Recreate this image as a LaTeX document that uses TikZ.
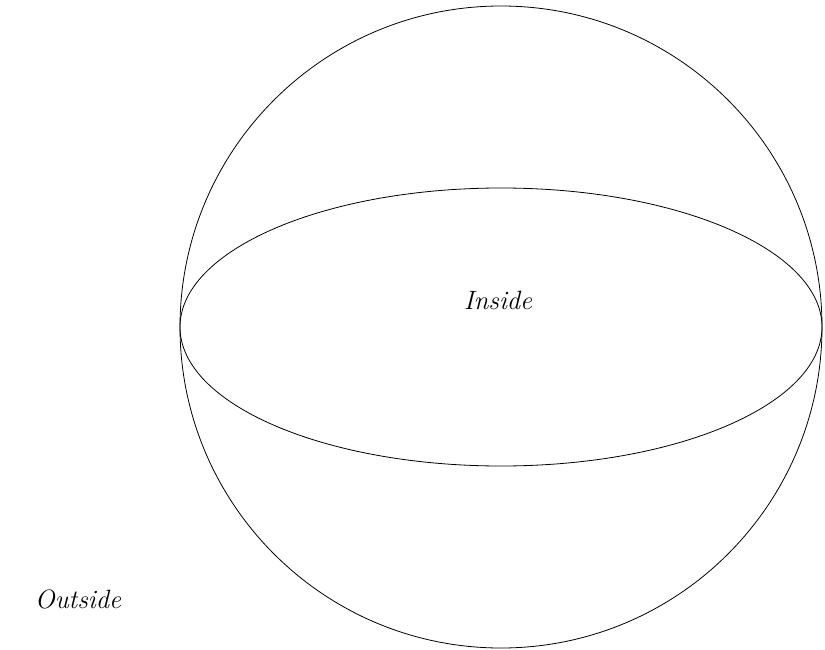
\documentclass[tikz,border=0pt]{standalone}
\begin{document}
\begin{tikzpicture}[x=1pt,y=-1pt,
  outline/.style={draw=black, line width=0.8pt},
  lbl/.style={font=\fontsize{26.5}{30}\selectfont\itshape, inner sep=0pt}]
\useasboundingbox (0,0) rectangle (825,650);
\coordinate (c) at (501,327);
\draw[outline] (c) circle [radius=321];
\draw[outline] (c) ellipse [x radius=321, y radius=139];
\node[lbl] (inside) at (498,300) {Inside};
\node[lbl] (outside) at (78,599) {Outside};
\end{tikzpicture}
\end{document}
